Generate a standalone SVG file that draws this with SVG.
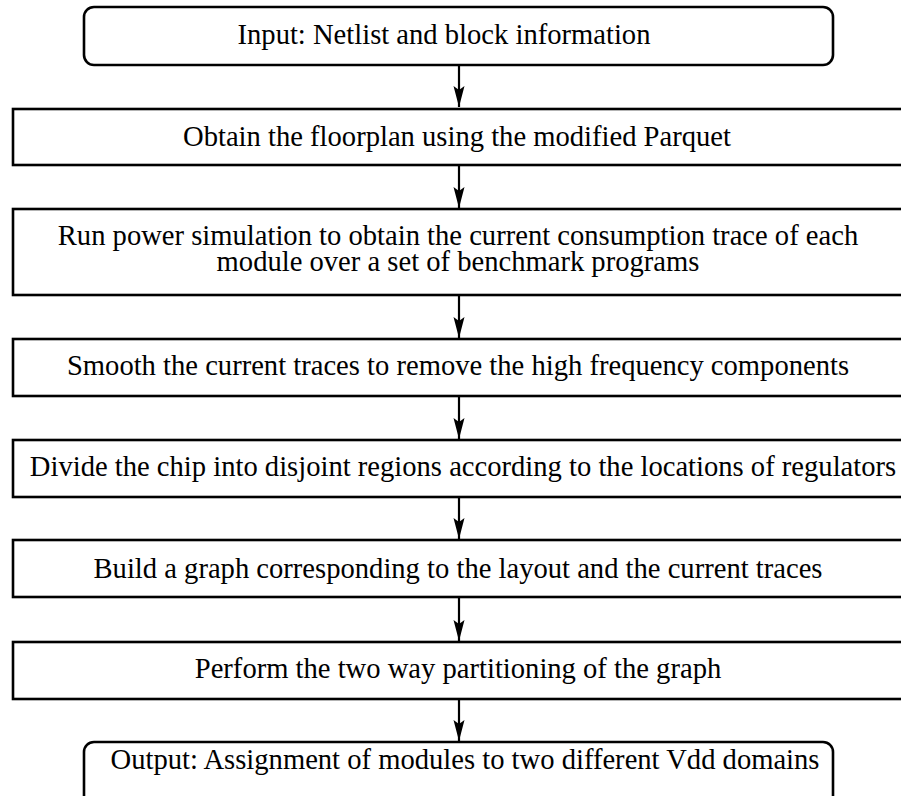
<svg xmlns="http://www.w3.org/2000/svg" width="901" height="796" viewBox="0 0 901 796">
<style>
.box{fill:#fff;stroke:#000;stroke-width:2.6}
.t{font-family:"Liberation Serif","Times New Roman",serif;font-size:28.6px;fill:#000;text-anchor:middle}
.c{stroke:#000;stroke-width:2.2;fill:none}
</style>
<defs>
<marker id="ah" markerUnits="userSpaceOnUse" markerWidth="22" markerHeight="12" viewBox="0 0 22 12" refX="21" refY="6" orient="auto">
<path d="M0,0.5 L4,6 L0,11.5 L21,6 Z" fill="#000"/>
</marker>
</defs>
<rect width="901" height="796" fill="#fff"/>
<g id="connectors">
<line class="c" x1="459" y1="65" x2="459" y2="107" marker-end="url(#ah)"/>
<line class="c" x1="459" y1="165" x2="459" y2="208" marker-end="url(#ah)"/>
<line class="c" x1="459" y1="295" x2="459" y2="338" marker-end="url(#ah)"/>
<line class="c" x1="459" y1="396" x2="459" y2="439" marker-end="url(#ah)"/>
<line class="c" x1="459" y1="497" x2="459" y2="539" marker-end="url(#ah)"/>
<line class="c" x1="459" y1="597" x2="459" y2="641" marker-end="url(#ah)"/>
<line class="c" x1="459" y1="699" x2="459" y2="741" marker-end="url(#ah)"/>
</g>
<g id="n1">
<rect class="box" x="84" y="7" width="749" height="58" rx="10"/>
<text class="t" x="444" y="44">Input: Netlist and block information</text>
</g>
<g id="n2">
<rect class="box" x="13" y="109" width="900" height="56"/>
<text class="t" x="457" y="146">Obtain the floorplan using the modified Parquet</text>
</g>
<g id="n3">
<rect class="box" x="13" y="209" width="900" height="86"/>
<text class="t" x="458" y="245">Run power simulation to obtain the current consumption trace of each</text>
<text class="t" x="458" y="271">module over a set of benchmark programs</text>
</g>
<g id="n4">
<rect class="box" x="13" y="339" width="900" height="57"/>
<text class="t" x="458" y="375">Smooth the current traces to remove the high frequency components</text>
</g>
<g id="n5">
<rect class="box" x="13" y="440" width="900" height="57"/>
<text class="t" x="463" y="476">Divide the chip into disjoint regions according to the locations of regulators</text>
</g>
<g id="n6">
<rect class="box" x="13" y="540" width="900" height="57"/>
<text class="t" x="458" y="578">Build a graph corresponding to the layout and the current traces</text>
</g>
<g id="n7">
<rect class="box" x="13" y="642" width="900" height="57"/>
<text class="t" x="458" y="678">Perform the two way partitioning of the graph</text>
</g>
<g id="n8">
<rect class="box" x="84" y="742" width="749" height="80" rx="10"/>
<text class="t" x="465" y="769">Output: Assignment of modules to two different Vdd domains</text>
</g>
</svg>
